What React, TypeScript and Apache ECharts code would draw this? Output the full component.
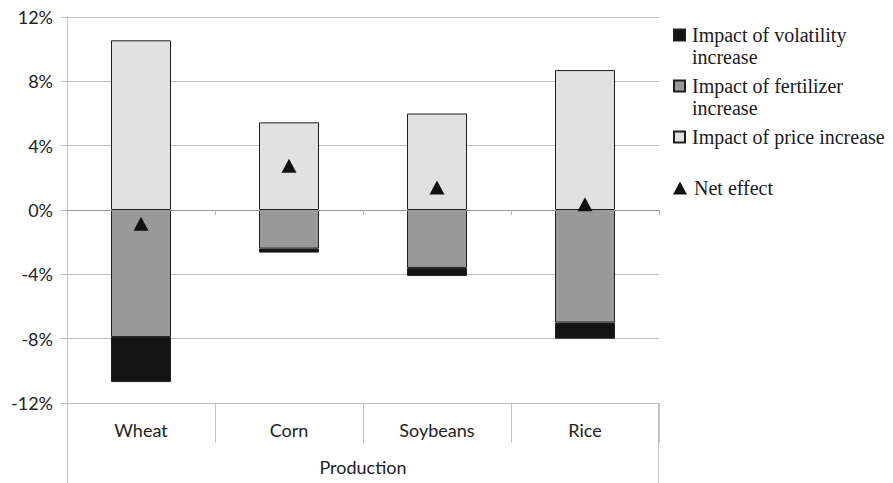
import React, { useEffect, useRef } from "react";
import * as echarts from "echarts";

const categories = ["Wheat", "Corn", "Soybeans", "Rice"];
const fertilizerImpact = [-7.9, -2.4, -3.6, -7.0];
const volatilityImpact = [-2.8, -0.25, -0.5, -1.0];
const priceImpact = [10.55, 5.45, 6.0, 8.7];
const netEffect = [-0.85, 2.75, 1.4, 0.35];
const yTicks = { min: -12, max: 12, interval: 4 };
const axisTitle = "Production";

const S_VOL = "Impact of volatility increase";
const S_FERT = "Impact of fertilizer increase";
const S_PRICE = "Impact of price increase";
const S_NET = "Net effect";

export default function App() {
  const ref = useRef<HTMLDivElement>(null);
  useEffect(() => {
    if (!ref.current) return;
    const chart = echarts.init(ref.current, null, { renderer: "svg" });
    const legendText = {
      fontFamily: "Liberation Serif",
      fontSize: 20,
      lineHeight: 22,
      color: "#1a1a1a",
      padding: [0, 0, 0, 2],
    };
    const mkLegend = (name: string, top: number, text: string, icon: string, w: number, h: number) => ({
      data: [{ name, icon }],
      left: 673,
      top,
      padding: 0,
      orient: "vertical",
      itemWidth: w,
      itemHeight: h,
      selectedMode: false,
      textStyle: legendText,
      formatter: () => text,
    });
    const border = { borderColor: "#1e1e1e", borderWidth: 1 };
    chart.setOption({
      animation: false,
      backgroundColor: "#ffffff",
      grid: { left: 67, right: 234, top: 17, bottom: 80 },
      legend: [
        mkLegend(S_VOL, 2, "\nImpact of volatility\nincrease", "rect", 11, 11),
        mkLegend(S_FERT, 53, "\nImpact of fertilizer\nincrease", "rect", 11, 11),
        mkLegend(S_PRICE, 126, "Impact of price increase", "rect", 11, 11),
        mkLegend(S_NET, 177, "Net effect", "triangle", 14, 13),
      ],
      xAxis: [
        {
          type: "category",
          data: categories,
          position: "bottom",
          axisLine: { onZero: true, lineStyle: { color: "#9a9a9a", width: 1 } },
          axisTick: { show: true, length: 5, lineStyle: { color: "#b0b0b0" } },
          axisLabel: { show: false },
          splitLine: { show: false },
          z: 3,
        },
        {
          type: "category",
          data: categories,
          position: "bottom",
          axisLine: { onZero: false, lineStyle: { color: "#bfbfbf", width: 1 } },
          axisTick: { show: true, length: 40, lineStyle: { color: "#c4c4c4" } },
          axisLabel: {
            margin: 18,
            fontFamily: "Lato",
            fontSize: 18,
            color: "#222222",
          },
          name: axisTitle,
          nameLocation: "middle",
          nameGap: 55,
          nameTextStyle: { fontFamily: "Lato", fontSize: 18, color: "#222222" },
        },
      ],
      yAxis: {
        type: "value",
        min: yTicks.min,
        max: yTicks.max,
        interval: yTicks.interval,
        axisLine: { show: true, lineStyle: { color: "#c4c4c4" } },
        axisTick: { show: true, length: 6, lineStyle: { color: "#b8b8b8" } },
        axisLabel: {
          formatter: "{value}%",
          margin: 14,
          fontFamily: "Lato",
          fontSize: 18,
          color: "#222222",
        },
        splitLine: { show: true, lineStyle: { color: "#bdbdbd", width: 1 } },
      },
      graphic: [
        { type: "line", shape: { x1: 67.5, y1: 403, x2: 67.5, y2: 483 }, style: { stroke: "#c4c4c4", lineWidth: 1 } },
        { type: "line", shape: { x1: 658.5, y1: 403, x2: 658.5, y2: 483 }, style: { stroke: "#c4c4c4", lineWidth: 1 } },
      ],
      series: [
        {
          name: S_FERT,
          type: "bar",
          stack: "impact",
          barWidth: 60,
          data: fertilizerImpact,
          itemStyle: { color: "#999999", ...border },
        },
        {
          name: S_VOL,
          type: "bar",
          stack: "impact",
          barWidth: 60,
          data: volatilityImpact,
          itemStyle: { color: "#141414", ...border },
        },
        {
          name: S_PRICE,
          type: "bar",
          stack: "impact",
          barWidth: 60,
          data: priceImpact,
          itemStyle: { color: "#e1e1e1", ...border },
        },
        {
          name: S_NET,
          type: "scatter",
          symbol: "triangle",
          symbolSize: [15, 14],
          data: netEffect,
          itemStyle: { color: "#111111", opacity: 1 },
          z: 5,
        },
      ],
    });
    return () => chart.dispose();
  }, []);
  return (
    <div
      ref={ref}
      style={{ position: "fixed", left: 0, top: 0, width: 893, height: 483 }}
    />
  );
}
